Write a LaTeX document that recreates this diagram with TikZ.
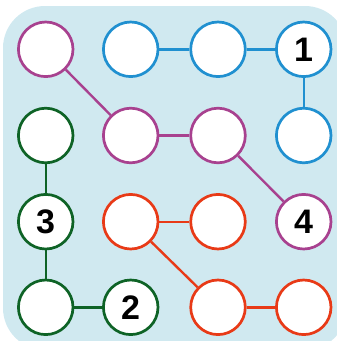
\documentclass[tikz,border=0pt]{standalone}
\usepackage{fontspec}
\setmainfont{Liberation Sans}
\definecolor{bgblue}{HTML}{D0E9F0}
\definecolor{cblue}{HTML}{2090D0}
\definecolor{cpurple}{HTML}{A8418F}
\definecolor{cgreen}{HTML}{0E6326}
\definecolor{cred}{HTML}{E83A17}
\tikzset{
  dot/.style={circle, draw=#1, fill=white, line width=2.7pt, minimum size=54.6pt, inner sep=0pt,
    font=\fontsize{34}{34}\selectfont\bfseries},
  link/.style={draw=#1, line width=2.4pt},
}
\begin{document}
\begin{tikzpicture}[x=1pt,y=-1pt]
\useasboundingbox (0,0) rectangle (337,341);
\begin{scope}
\clip (0,0) rectangle (337,341);
\fill[bgblue, rounded corners=42pt] (3,6) rectangle (347,350);
\end{scope}
% coordinates
\def\xa{45.7}\def\xb{130.7}\def\xc{218}\def\xd{303.7}
\def\ya{49.3}\def\yb{135.5}\def\yc{221.7}\def\yd{307.3}
% blue
\node[dot=cblue] (b1) at (\xb,\ya) {};
\node[dot=cblue] (b2) at (\xc,\ya) {};
\node[dot=cblue] (b3) at (\xd,\ya) {1};
\node[dot=cblue] (b4) at (\xd,\yb) {};
% purple
\node[dot=cpurple] (p1) at (\xa,\ya) {};
\node[dot=cpurple] (p2) at (\xb,\yb) {};
\node[dot=cpurple] (p3) at (\xc,\yb) {};
\node[dot=cpurple] (p4) at (\xd,\yc) {4};
% green
\node[dot=cgreen] (g1) at (\xa,\yb) {};
\node[dot=cgreen] (g2) at (\xa,\yc) {3};
\node[dot=cgreen] (g3) at (\xa,\yd) {};
\node[dot=cgreen] (g4) at (\xb,\yd) {2};
% red
\node[dot=cred] (r1) at (\xb,\yc) {};
\node[dot=cred] (r2) at (\xc,\yc) {};
\node[dot=cred] (r3) at (\xc,\yd) {};
\node[dot=cred] (r4) at (\xd,\yd) {};
% links
\draw[link=cblue] (b1) -- (b2);
\draw[link=cblue] (b2) -- (b3);
\draw[link=cblue] (b3) -- (b4);
\draw[link=cpurple] (p1) -- (p2);
\draw[link=cpurple] (p2) -- (p3);
\draw[link=cpurple] (p3) -- (p4);
\draw[link=cgreen] (g1) -- (g2);
\draw[link=cgreen] (g2) -- (g3);
\draw[link=cgreen] (g3) -- (g4);
\draw[link=cred] (r1) -- (r2);
\draw[link=cred] (r1) -- (r3);
\draw[link=cred] (r3) -- (r4);
\end{tikzpicture}
\end{document}
